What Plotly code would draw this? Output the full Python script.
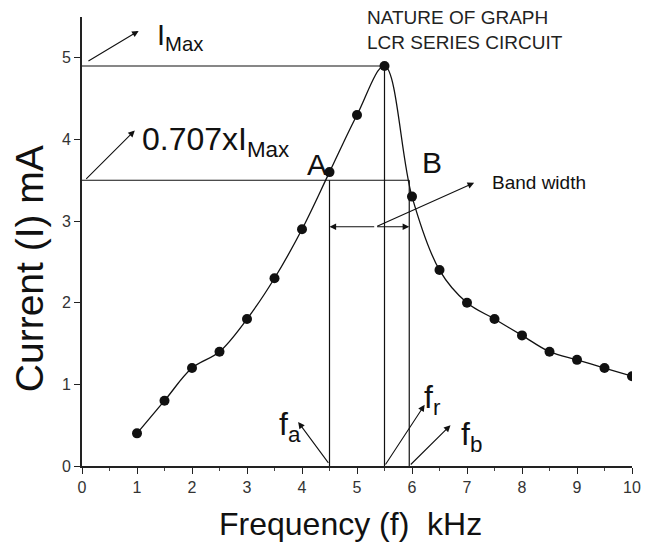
import plotly.graph_objects as go

# Data
freq_khz = [1, 1.5, 2, 2.5, 3, 3.5, 4, 4.5, 5, 5.5, 6, 6.5, 7, 7.5, 8, 8.5, 9, 9.5, 10]
current_ma = [0.4, 0.8, 1.2, 1.4, 1.8, 2.3, 2.9, 3.6, 4.3, 4.9, 3.3, 2.4, 2.0, 1.8, 1.6, 1.4, 1.3, 1.2, 1.1]
x_ticks = [0, 1, 2, 3, 4, 5, 6, 7, 8, 9, 10]
y_ticks = [0, 1, 2, 3, 4, 5]

i_max = 4.9       # peak current
i_bw = 3.5        # 0.707 x I_max level
f_a = 4.5
f_r = 5.5
f_b = 5.95
bw_arrow_y = 2.93
bw_arrow_mid = 5.34

FONT = "Arial, Liberation Sans, sans-serif"
INK = "#111111"

fig = go.Figure()

fig.add_trace(go.Scatter(
    x=freq_khz, y=current_ma, mode="lines+markers",
    line=dict(color=INK, width=1.3, shape="spline", smoothing=1.0),
    marker=dict(color=INK, size=10),
    showlegend=False, hoverinfo="skip",
))

line_style = dict(color=INK, width=1.2)
shapes = [
    dict(type="line", x0=0, x1=f_r, y0=i_max, y1=i_max, line=line_style),
    dict(type="line", x0=0, x1=f_b, y0=i_bw, y1=i_bw, line=line_style),
    dict(type="line", x0=f_a, x1=f_a, y0=0, y1=i_bw, line=line_style),
    dict(type="line", x0=f_r, x1=f_r, y0=0, y1=i_max, line=line_style),
    dict(type="line", x0=f_b, x1=f_b, y0=0, y1=i_bw, line=line_style),
]
for s in shapes:
    s.update(xref="x", yref="y", layer="below")

def arrow(x_tail, y_tail, x_head, y_head):
    return dict(x=x_head, y=y_head, ax=x_tail, ay=y_tail, xref="x", yref="y",
                axref="x", ayref="y", text="", showarrow=True, arrowhead=2,
                arrowsize=1.2, arrowwidth=1.1, arrowcolor=INK, standoff=0, startstandoff=0)

def label(x, y, text, size, xanchor="center", yanchor="middle", angle=0, align="center",
          color=INK, ref="x"):
    return dict(x=x, y=y, xref="x" if ref == "x" else "paper", yref="y" if ref == "x" else "paper",
                text=text, showarrow=False,
                xanchor=xanchor, yanchor=yanchor, textangle=angle, align=align,
                font=dict(family=FONT, size=size, color=color))

annotations = [
    arrow(0.09, 4.95, 1.03, 5.33),
    arrow(0.05, 3.50, 0.96, 4.11),
    arrow(bw_arrow_mid, bw_arrow_y, f_a, bw_arrow_y),
    arrow(bw_arrow_mid, bw_arrow_y, f_b, bw_arrow_y),
    arrow(bw_arrow_mid, bw_arrow_y, 7.13, 3.47),
    arrow(f_a, 0.02, 3.93, 0.54),
    arrow(f_r, 0.0, 6.23, 0.75),
    arrow(f_b, 0.0, 6.70, 0.50),
    label(1.79, 5.26, "I<sub>Max</sub>", 29),
    label(2.42, 3.98, "0.707xI<sub>Max</sub>", 32),
    label(4.28, 3.69, "A", 30),
    label(6.37, 3.72, "B", 30),
    label(8.30, 3.47, "Band width", 19),
    label(3.79, 0.48, "f<sub>a</sub>", 32),
    label(6.37, 0.81, "f<sub>r</sub>", 32),
    label(7.09, 0.36, "f<sub>b</sub>", 32),
    label(5.14, 5.34, "NATURE OF GRAPH<br>LCR SERIES CIRCUIT", 19, xanchor="left", align="left", color="#222222"),
    label(-0.094, 0.439, "Current (I) mA", 39, angle=-90, ref="paper"),
    label(0.489, -0.129, "Frequency (f)&nbsp; kHz", 32, ref="paper"),
]

fig.update_layout(
    width=653, height=549,
    margin=dict(l=82, r=17, t=17, b=83),
    paper_bgcolor="white", plot_bgcolor="white",
    shapes=shapes, annotations=annotations,
    font=dict(family=FONT, color="#333333"),
)
fig.update_xaxes(
    range=[0, 10], tickvals=x_ticks, ticks="outside", ticklen=6, tickwidth=1.3,
    tickcolor="#222222", showline=True, linecolor="#222222", linewidth=1.6,
    showgrid=False, zeroline=False, tickfont=dict(size=16, color="#333333"),
    minor=dict(dtick=0.5, ticks="outside", ticklen=3, tickcolor="#444444", showgrid=False),
)
fig.update_yaxes(
    range=[0, 5.5], tickvals=y_ticks, ticks="outside", ticklen=6, tickwidth=1.3,
    tickcolor="#222222", showline=True, linecolor="#222222", linewidth=1.6,
    showgrid=False, zeroline=False, tickfont=dict(size=16, color="#333333"),
)

fig.write_html("out.html")
